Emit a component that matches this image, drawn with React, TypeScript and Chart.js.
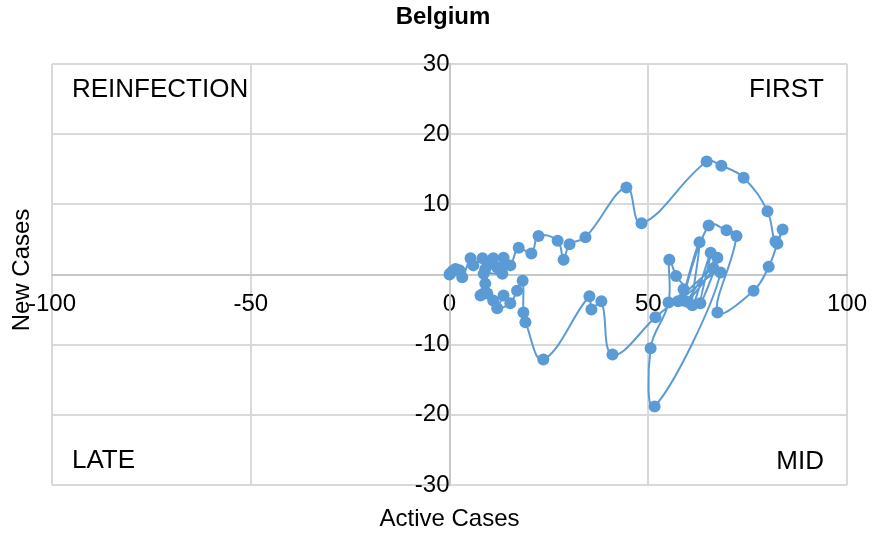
import React, { useEffect, useRef } from "react";
import { Chart, registerables } from "chart.js";

Chart.register(...registerables);

const chartTitle = "Belgium";
const xTitle = "Active Cases";
const yTitle = "New Cases";
const quadrantLabels = ["REINFECTION", "FIRST", "LATE", "MID"];

const activeCases = [
  0, 0.3, 0.8, 1.5, 2.5, 3.2, 5.3, 6, 8.3, 11, 13.6, 14, 15.3, 17.4, 20.6, 22.4, 27.2, 28.7, 30.2, 34.2,
  44.5, 48.3, 64.7, 68.4, 74, 80, 82, 83.8, 82.5, 80.3, 76.5, 67.4,
  72.2, 69.7, 65.2, 58.6, 62.9, 61.1, 65.7, 63.1, 67.4, 59.8, 66.4, 57.5, 68.2,
  51.6, 50.6, 55.1, 55.3, 57.0, 58.9, 51.8, 41, 38.2, 35.7, 35.2, 23.6, 19.1, 18.6,
  18.4, 17, 15.3, 12, 13.6, 11, 9.5, 7.8, 8.6, 9, 8.6, 13.3, 12, 10, 9,
];
const newCases = [
  0, 0.2, 0.5, 0.8, 0.6, -0.4, 2.3, 1.3, 2.3, 2.3, 2.4, 1.5, 1.3, 3.8, 3.0, 5.5, 4.8, 2.1, 4.3, 5.3,
  12.4, 7.3, 16.1, 15.5, 13.8, 9, 4.7, 6.4, 4.4, 1.1, -2.3, -5.4,
  5.5, 6.3, 7.0, -3.7, 4.6, -4.4, 3.1, -4.1, 2.4, -3.9, 0.9, -3.8, 0.3,
  -18.8, -10.5, -4.0, 2.1, -0.2, -2.1, -6.1, -11.4, -3.8, -5.0, -3.1, -12.1, -6.8, -5.4,
  -0.9, -2.3, -4.1, -4.8, -3.0, -3.7, -2.7, -3.0, -2.7, -1.3, 0.1, 0.1, 1.0, 1.5, 0.8,
];

const xTicksMin = -100;
const xTicksMax = 100;
const xStep = 50;
const yTicksMin = -30;
const yTicksMax = 30;
const yStep = 10;

const FONT = '"Liberation Sans", Arial, sans-serif';
const BLUE = "#5B9BD5";

const textPlugin = {
  id: "textPlugin",
  afterDraw(chart: any) {
    const { ctx, chartArea } = chart;
    ctx.save();
    ctx.fillStyle = "#000";
    ctx.textBaseline = "middle";
    ctx.font = `bold 24px ${FONT}`;
    ctx.textAlign = "center";
    ctx.fillText(chartTitle, 443, 17);

    ctx.font = `24px ${FONT}`;
    ctx.fillText(xTitle, (chartArea.left + chartArea.right) / 2, 519);
    ctx.save();
    ctx.translate(22, 270);
    ctx.rotate(-Math.PI / 2);
    ctx.fillText(yTitle, 0, 0);
    ctx.restore();

    ctx.font = `26px ${FONT}`;
    ctx.textAlign = "left";
    ctx.fillText(quadrantLabels[0], chartArea.left + 20, 90);
    ctx.fillText(quadrantLabels[2], chartArea.left + 20, 461);
    ctx.textAlign = "right";
    ctx.fillText(quadrantLabels[1], chartArea.right - 23, 90);
    ctx.fillText(quadrantLabels[3], chartArea.right - 23, 462);
    ctx.restore();
  },
};

export default function App() {
  const ref = useRef<HTMLCanvasElement | null>(null);
  useEffect(() => {
    if (!ref.current) return;
    const points = activeCases.map((x, i) => ({ x, y: newCases[i] }));
    const chart = new Chart(ref.current, {
      type: "scatter",
      data: {
        datasets: [
          {
            data: points,
            showLine: true,
            borderColor: BLUE,
            backgroundColor: BLUE,
            pointBackgroundColor: BLUE,
            pointBorderColor: BLUE,
            pointRadius: 6,
            pointBorderWidth: 0,
            borderWidth: 2,
            tension: 0.4,
          } as any,
        ],
      },
      options: {
        responsive: false,
        animation: false,
        layout: { padding: { left: 52, right: 25, top: 64, bottom: 53 } },
        plugins: {
          legend: { display: false },
          title: { display: false },
          tooltip: { enabled: false },
        },
        scales: {
          x: {
            type: "linear",
            min: xTicksMin,
            max: xTicksMax,
            position: { y: 0 } as any,
            ticks: {
              stepSize: xStep,
              color: "#000",
              font: { family: FONT, size: 24 },
              padding: 0,
              maxRotation: 0,
            },
            grid: {
              color: "#d9d9d9",
              lineWidth: 2,
              drawTicks: true,
              tickLength: 15,
              tickColor: "rgba(0,0,0,0)",
            },
            border: { color: "#c8c8c8", width: 2 },
          },
          y: {
            type: "linear",
            min: yTicksMin,
            max: yTicksMax,
            position: { x: 0 } as any,
            ticks: {
              stepSize: yStep,
              color: "#000",
              font: { family: FONT, size: 24 },
              padding: 14,
              callback: (v: any) => (v === 0 ? "" : String(v)),
            },
            grid: { color: "#d9d9d9", lineWidth: 2, drawTicks: false },
            border: { color: "#c8c8c8", width: 2 },
          },
        },
      },
      plugins: [textPlugin],
    });
    return () => chart.destroy();
  }, []);
  return (
    <div style={{ position: "fixed", left: 0, top: 0, width: 872, height: 538, background: "#fff" }}>
      <canvas ref={ref} width={872} height={538} style={{ display: "block" }} />
    </div>
  );
}
